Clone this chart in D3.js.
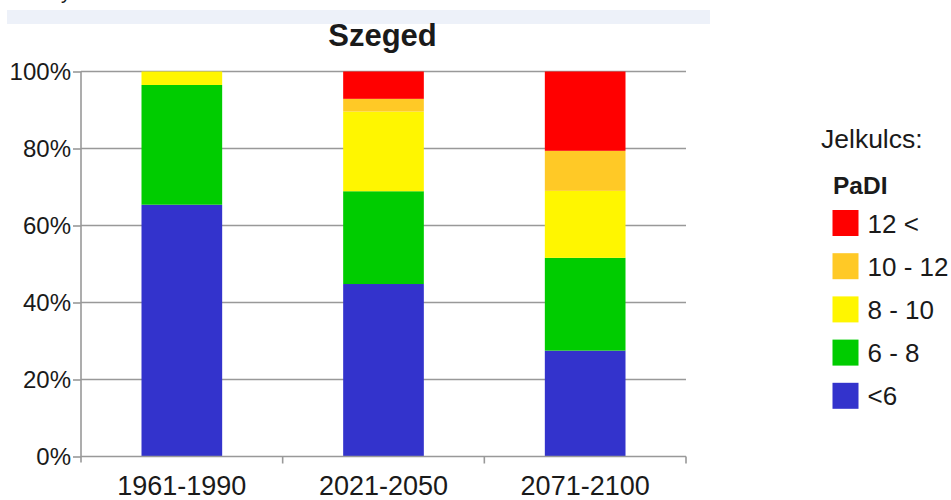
<!DOCTYPE html>
<html>
<head>
<meta charset="utf-8">
<script src="https://cdn.jsdelivr.net/npm/d3@7"></script>
<style>
  html, body { margin: 0; padding: 0; background: #fff; }
  svg { display: block; }
  text { font-family: "Liberation Sans", Arial, sans-serif; fill: #1a1a1a; }
</style>
</head>
<body>
<svg id="chart" width="951" height="500"></svg>
<script>
// PaDI drought-index class shares (%) for Szeged by period
const periods = ["1961-1990", "2021-2050", "2071-2100"];
const classes = ["<6", "6 - 8", "8 - 10", "10 - 12", "12 <"];
const lt6    = [65.4, 44.8, 27.5];
const c6to8  = [31.1, 24.1, 24.1];
const c8to10 = [3.5, 20.7, 17.4];
const c10to12 = [0, 3.3, 10.4];
const gt12   = [0, 7.1, 20.6];
const classColors = ["#3333cc", "#00cc00", "#fff600", "#ffc926", "#ff0000"];
const yTicks = [0, 20, 40, 60, 80, 100];
const title = "Szeged";
const legendTitle = "Jelkulcs:";
const legendHeader = "PaDI";

const seriesValues = [lt6, c6to8, c8to10, c10to12, gt12];
const rows = periods.map((p, i) => {
  const r = { period: p };
  classes.forEach((c, k) => { r[c] = seriesValues[k][i]; });
  return r;
});
const stacked = d3.stack().keys(classes)(rows);

const svg = d3.select("#chart");

// header strip (with the tail of the line above it)
svg.append("rect").attr("x", 7).attr("y", 10).attr("width", 703).attr("height", 14)
  .attr("fill", "#edf1f9");
svg.append("text").attr("x", 61).attr("y", -1).attr("font-size", 20).text("y");

const x = d3.scaleBand().domain(periods).range([81, 686]).paddingInner(0.6).paddingOuter(0.3);
const y = d3.scaleLinear().domain([0, 100]).range([456.5, 71.5]);
const color = d3.scaleOrdinal().domain(classes).range(classColors);

// horizontal gridlines
svg.append("g").selectAll("line").data(yTicks.filter(d => d > 0)).join("line")
  .attr("x1", x.range()[0]).attr("x2", x.range()[1])
  .attr("y1", d => y(d)).attr("y2", d => y(d))
  .attr("stroke", "#999").attr("stroke-width", 1.6);

// stacked bars
svg.append("g").selectAll("g").data(stacked).join("g")
  .attr("fill", d => color(d.key))
  .selectAll("rect").data(d => d.filter(s => s[1] - s[0] > 0)).join("rect")
  .attr("x", d => x(d.data.period))
  .attr("width", x.bandwidth())
  .attr("y", d => y(d[1]))
  .attr("height", d => y(d[0]) - y(d[1]));

// y axis
const yAxis = d3.axisLeft(y).tickValues(yTicks).tickFormat(d => d + "%").tickSize(8).tickPadding(2);
const gy = svg.append("g").attr("transform", `translate(${x.range()[0]},0)`).call(yAxis);
gy.select(".domain").remove();
gy.append("line").attr("x1", 0).attr("x2", 0).attr("y1", y(100)).attr("y2", y(0) + 6)
  .attr("stroke", "#999").attr("stroke-width", 1.6);
gy.selectAll(".tick line").attr("stroke", "#999").attr("stroke-width", 1.6);
gy.selectAll(".tick text").attr("font-size", 24).attr("fill", "#1a1a1a")
  .attr("font-family", "Liberation Sans, Arial, sans-serif");

// x axis with ticks at category boundaries
const gx = svg.append("g");
gx.append("line").attr("x1", x.range()[0]).attr("x2", x.range()[1])
  .attr("y1", y(0)).attr("y2", y(0)).attr("stroke", "#999").attr("stroke-width", 1.6);
const boundaries = d3.range(periods.length + 1).map(i => x.range()[0] + i * x.step());
gx.selectAll(".bt").data(boundaries.slice(1)).join("line")
  .attr("x1", d => d).attr("x2", d => d).attr("y1", y(0)).attr("y2", y(0) + 7)
  .attr("stroke", "#999").attr("stroke-width", 1.6);
gx.selectAll("text").data(periods).join("text")
  .attr("x", d => x(d) + x.bandwidth() / 2).attr("y", 495)
  .attr("text-anchor", "middle").attr("font-size", 27).text(d => d);

// title
svg.append("text").attr("x", 382.5).attr("y", 46).attr("text-anchor", "middle")
  .attr("font-size", 31).attr("font-weight", "bold").attr("fill", "#000").text(title);

// legend
const lg = svg.append("g");
lg.append("text").attr("x", 821).attr("y", 148).attr("font-size", 26.5)
  .attr("font-family", "Open Sans, sans-serif").text(legendTitle);
lg.append("text").attr("x", 833).attr("y", 194).attr("font-size", 24.5)
  .attr("font-weight", "bold").attr("fill", "#000").text(legendHeader);
const legendItems = classes.slice().reverse();
const item = lg.selectAll(".li").data(legendItems).join("g")
  .attr("transform", (d, i) => `translate(832.5,${210 + i * 43.2})`);
item.append("rect").attr("width", 26).attr("height", 26).attr("fill", d => color(d));
item.append("text").attr("x", 35).attr("y", 22.5).attr("font-size", 26).text(d => d);
</script>
</body>
</html>
